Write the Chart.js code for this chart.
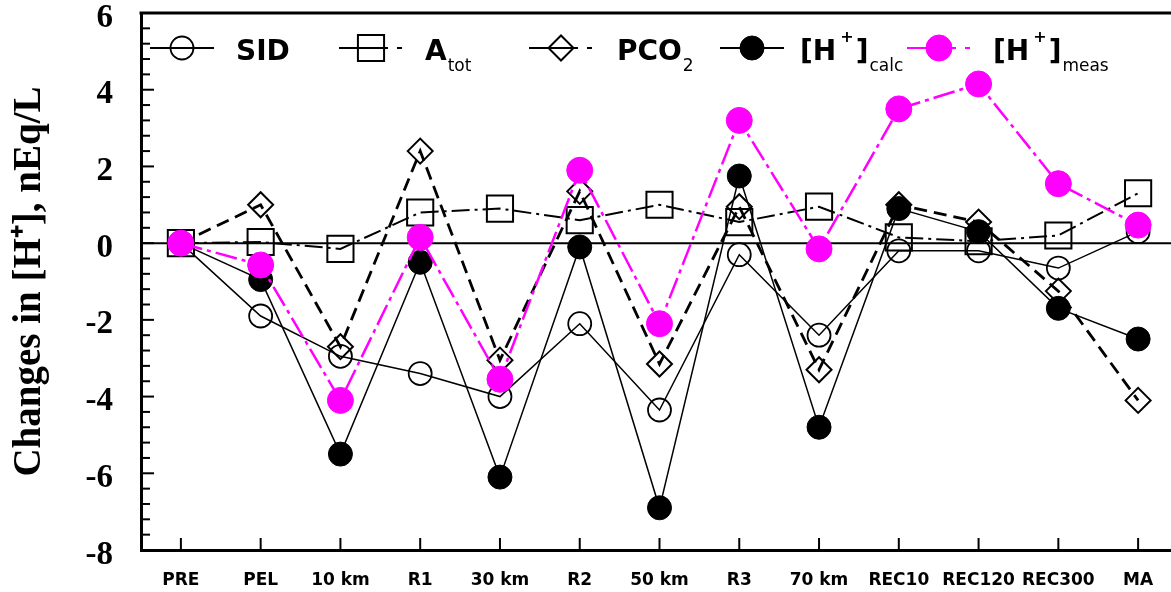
<!DOCTYPE html>
<html>
<head>
<meta charset="utf-8">
<script src="https://cdn.jsdelivr.net/npm/chart.js@4.4.1/dist/chart.umd.min.js"></script>
<style>
html,body{margin:0;padding:0;background:#fff;overflow:hidden;width:1171px;height:592px}
canvas{display:block}
</style>
</head>
<body>
<canvas id="c" width="1180" height="592"></canvas>
<script>
// ---- data ----
const categories = ['PRE','PEL','10 km','R1','30 km','R2','50 km','R3','70 km','REC10','REC120','REC300','MA'];
const sidValues   = [0, -1.9, -2.95, -3.4, -4.0, -2.1, -4.35, -0.3, -2.4, -0.2, -0.2, -0.65, 0.3];
const atotValues  = [0, 0.03, -0.15, 0.8, 0.9, 0.6, 1.0, 0.55, 0.95, 0.15, 0.05, 0.2, 1.3];
const pco2Values  = [0, 1.0, -2.7, 2.4, -3.05, 1.35, -3.15, 0.95, -3.3, 1.0, 0.55, -1.25, -4.1];
const hCalcValues = [0, -0.95, -5.5, -0.5, -6.1, -0.1, -6.9, 1.75, -4.8, 0.9, 0.3, -1.7, -2.5];
const hMeasValues = [0, -0.57, -4.1, 0.15, -3.55, 1.9, -2.1, 3.2, -0.15, 3.5, 4.15, 1.55, 0.47];
const yMin = -8, yMax = 6, yLabelStep = 2, yMinorStep = 0.4;
const yAxisTitle = 'Changes in [H\u207A], nEq/L';
// legend texts: [main, superscript, closing, subscript]
const legendTexts = [
  ['SID', '', '', ''],
  ['A', '', '', 'tot'],
  ['PCO', '', '', '2'],
  ['[H', '+', ']', 'calc'],
  ['[H', '+', ']', 'meas']
];

const isMajor = v => Math.abs(v / yLabelStep - Math.round(v / yLabelStep)) < 1e-6;

const axisPlugin = {
  id: 'axisDecor',
  beforeDatasetsDraw(chart) {
    const {ctx, chartArea: a, scales: {x, y}} = chart;
    ctx.save();
    ctx.strokeStyle = '#000';
    // zero line
    ctx.lineWidth = 2;
    const y0 = y.getPixelForValue(0);
    ctx.beginPath(); ctx.moveTo(a.left, y0); ctx.lineTo(chart.width, y0); ctx.stroke();
    // top frame
    ctx.lineWidth = 3;
    ctx.beginPath(); ctx.moveTo(a.left - 1.5, a.top); ctx.lineTo(chart.width, a.top); ctx.stroke();
    // inward y ticks
    ctx.lineWidth = 2;
    y.ticks.forEach(t => {
      const p = y.getPixelForValue(t.value);
      const len = isMajor(t.value) ? 13 : 9;
      ctx.beginPath(); ctx.moveTo(a.left, p); ctx.lineTo(a.left + len, p); ctx.stroke();
    });
    // inward x ticks
    categories.forEach((c, i) => {
      const p = x.getPixelForValue(i);
      ctx.beginPath(); ctx.moveTo(p, a.bottom); ctx.lineTo(p, a.bottom - 12); ctx.stroke();
    });
    ctx.restore();
  },
  afterDatasetsDraw(chart) {
    const {ctx} = chart;
    const centers = [182, 371, 561, 752, 939];
    const textX = [236, 425, 617, 800, 993];
    const ly = 48;
    chart.data.datasets.forEach((ds, i) => {
      const cx = centers[i];
      ctx.save();
      ctx.strokeStyle = ds.borderColor;
      ctx.lineWidth = 2;
      ctx.beginPath();
      if (ds.borderDash && ds.borderDash.length) {
        ctx.moveTo(cx - 32, ly); ctx.lineTo(cx + 17, ly);
        ctx.moveTo(cx + 26, ly); ctx.lineTo(cx + 31, ly);
      } else {
        ctx.moveTo(cx - 32, ly); ctx.lineTo(cx + 32, ly);
      }
      ctx.stroke();
      ctx.fillStyle = ds.pointBackgroundColor;
      ctx.strokeStyle = ds.pointBorderColor;
      ctx.lineWidth = ds.pointBorderWidth;
      Chart.helpers.drawPoint(ctx, {pointStyle: ds.pointStyle, radius: ds.pointRadius, borderWidth: ds.pointBorderWidth, rotation: 0}, cx, ly);
      // text
      const [main, sup, close, sub] = legendTexts[i];
      ctx.fillStyle = '#000';
      ctx.textBaseline = 'alphabetic';
      ctx.textAlign = 'left';
      let tx = textX[i];
      ctx.font = 'bold 28px "DejaVu Sans"';
      ctx.fillText(main, tx, 60);
      tx += ctx.measureText(main).width;
      if (sup) {
        tx += 4;
        ctx.font = 'bold 16px "DejaVu Sans"';
        ctx.fillText(sup, tx, 42);
        tx += ctx.measureText(sup).width + 2;
      }
      if (close) {
        ctx.font = 'bold 28px "DejaVu Sans"';
        ctx.fillText(close, tx, 60);
        tx += ctx.measureText(close).width;
      }
      if (sub) {
        ctx.font = '17px "DejaVu Sans"';
        ctx.fillText(sub, tx + 1, 71);
      }
      ctx.restore();
    });
  }
};

const clear = 'rgba(0,0,0,0)';
new Chart(document.getElementById('c'), {
  type: 'line',
  data: {
    labels: categories,
    datasets: [
      {label: 'SID', data: sidValues, borderColor: '#000', borderWidth: 1.5,
       pointStyle: 'circle', pointRadius: 11.5, pointBorderWidth: 1.8,
       pointBackgroundColor: clear, pointBorderColor: '#000', order: 4},
      {label: 'Atot', data: atotValues, borderColor: '#000', borderWidth: 2, borderDash: [18, 5, 3, 5],
       pointStyle: 'rect', pointRadius: 18.5, pointBorderWidth: 2,
       pointBackgroundColor: clear, pointBorderColor: '#000', order: 3},
      {label: 'PCO2', data: pco2Values, borderColor: '#000', borderWidth: 2.8, borderDash: [13, 7],
       pointStyle: 'rectRot', pointRadius: 12.5, pointBorderWidth: 2,
       pointBackgroundColor: clear, pointBorderColor: '#000', order: 2},
      {label: '[H+]calc', data: hCalcValues, borderColor: '#000', borderWidth: 1.5,
       pointStyle: 'circle', pointRadius: 12, pointBorderWidth: 1,
       pointBackgroundColor: '#000', pointBorderColor: '#000', order: 1},
      {label: '[H+]meas', data: hMeasValues, borderColor: '#ff00ff', borderWidth: 2.5, borderDash: [22, 5, 4, 5],
       pointStyle: 'circle', pointRadius: 13, pointBorderWidth: 1,
       pointBackgroundColor: '#ff00ff', pointBorderColor: '#ff00ff', order: 0}
    ]
  },
  options: {
    responsive: false,
    animation: false,
    events: [],
    layout: {autoPadding: false, padding: {top: 13, right: 2, left: 0, bottom: 0}},
    elements: {line: {tension: 0}, point: {hoverRadius: 0}},
    plugins: {legend: {display: false}, tooltip: {enabled: false}, title: {display: false}},
    scales: {
      x: {
        type: 'category', offset: true,
        grid: {display: false, drawTicks: false},
        border: {display: true, color: '#000', width: 3},
        ticks: {color: '#000', font: {family: 'DejaVu Sans', weight: 'bold', size: 17}, padding: 20, maxRotation: 0, autoSkip: false},
        afterFit: s => { s.height = 42; s.paddingLeft = 0; s.paddingRight = 0; }
      },
      y: {
        type: 'linear', min: yMin, max: yMax,
        grid: {display: false, drawTicks: false},
        border: {display: true, color: '#000', width: 3},
        ticks: {stepSize: yMinorStep, autoSkip: false, color: '#000', padding: 28, labelOffset: 5,
          font: {family: 'Liberation Serif', weight: 'bold', size: 33},
          callback: v => isMajor(v) ? String(Math.round(v)) : ''},
        title: {display: true, text: yAxisTitle, color: '#000', padding: {top: 7, bottom: 0},
          font: {family: 'Liberation Serif', weight: 'bold', size: 39}},
        afterFit: s => { s.width = 141; s.paddingTop = 0; s.paddingBottom = 0; }
      }
    }
  },
  plugins: [axisPlugin]
});
</script>
</body>
</html>
